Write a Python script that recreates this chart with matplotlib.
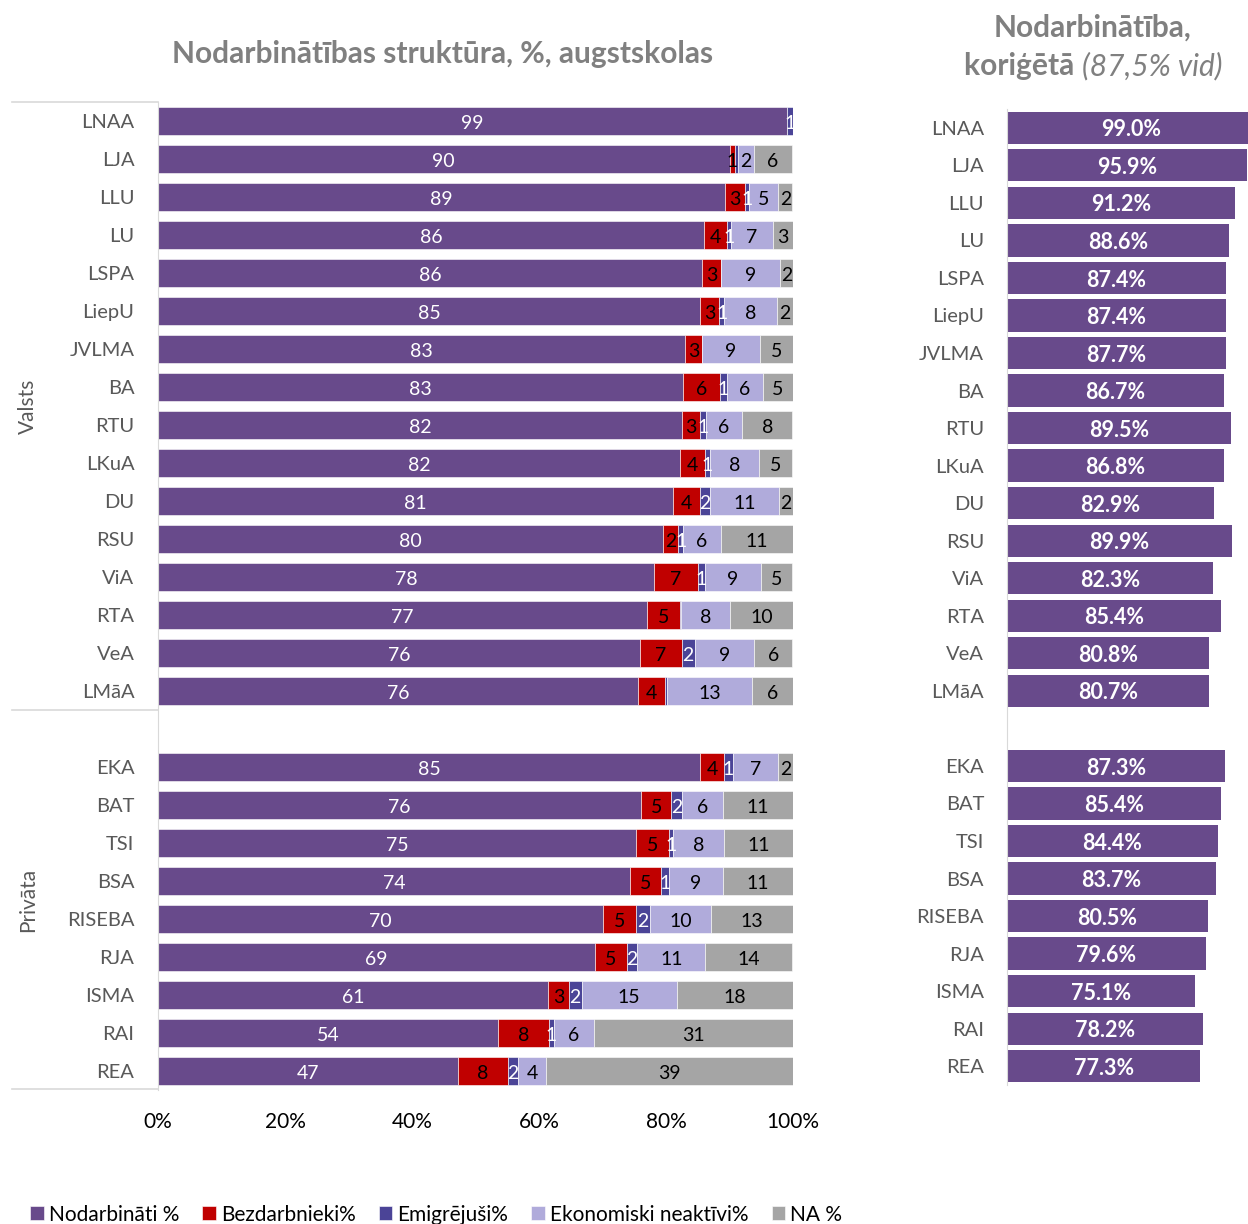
import matplotlib.pyplot as plt
from matplotlib.lines import Line2D

plt.rcParams['font.family'] = ['Lato', 'DejaVu Sans']

# ------------------------------------------------------------------ dati

valsts = ['LNAA', 'LJA', 'LLU', 'LU', 'LSPA', 'LiepU', 'JVLMA', 'BA', 'RTU',
          'LKuA', 'DU', 'RSU', 'ViA', 'RTA', 'VeA', 'LMāA']
privata = ['EKA', 'BAT', 'TSI', 'BSA', 'RISEBA', 'RJA', 'ISMA', 'RAI', 'REA']

nodarbinati = [99.0, 90.0, 89.3, 86.0, 85.7, 85.4, 83.0, 82.7, 82.5,
               82.2, 81.1, 79.6, 78.1, 77.0, 75.9, 75.6,
               85.4, 76.1, 75.3, 74.4, 70.1, 68.8, 61.4, 53.6, 47.2]
bezdarbnieki = [0.0, 0.9, 3.1, 3.6, 3.0, 3.0, 2.7, 5.8, 2.8,
                3.9, 4.2, 2.3, 6.9, 5.2, 6.6, 4.3,
                3.8, 4.7, 5.2, 4.8, 5.2, 5.0, 3.3, 7.9, 7.9]
emigrejusi = [1.0, 0.4, 0.6, 0.6, 0.0, 0.8, 0.0, 1.1, 1.0,
              0.9, 1.6, 0.8, 1.1, 0.2, 2.0, 0.3,
              1.3, 1.7, 0.6, 1.2, 2.2, 1.7, 2.0, 0.8, 1.6]
neaktivi = [0.0, 2.5, 4.7, 6.7, 9.3, 8.3, 9.1, 5.7, 5.7,
            7.7, 10.9, 5.9, 8.8, 7.7, 9.4, 13.4,
            7.2, 6.5, 8.0, 8.6, 9.6, 10.7, 15.0, 6.3, 4.4]
na = [0.0, 6.1, 2.2, 3.1, 2.0, 2.5, 5.2, 4.7, 7.9,
      5.2, 2.2, 11.4, 5.0, 9.9, 6.0, 6.4,
      2.4, 11.0, 11.0, 11.0, 12.9, 13.7, 18.3, 31.4, 38.9]

korigeta = [99.0, 95.9, 91.2, 88.6, 87.4, 87.4, 87.7, 86.7, 89.5,
            86.8, 82.9, 89.9, 82.3, 85.4, 80.8, 80.7,
            87.3, 85.4, 84.4, 83.7, 80.5, 79.6, 75.1, 78.2, 77.3]

series = [('Nodarbināti %', nodarbinati, '#684A8B', 'white'),
          ('Bezdarbnieki%', bezdarbnieki, '#C00000', 'black'),
          ('Emigrējuši%', emigrejusi, '#4B4497', 'white'),
          ('Ekonomiski neaktīvi%', neaktivi, '#B0ABDB', 'black'),
          ('NA %', na, '#A5A5A5', 'black')]

# pozīcijas: tukša rinda starp valsts un privātajām
names = valsts + privata
ypos = list(range(len(valsts))) + [len(valsts) + 1 + i for i in range(len(privata))]
nrows = len(valsts) + 1 + len(privata)

W, H = 1248, 1224
GRAY = '#595959'
TGRAY = '#808080'
LINE = '#D9D9D9'
fig = plt.figure(figsize=(W / 100, H / 100), dpi=100)

def fx(px):
    return px / W

def fy(py):
    return 1 - py / H

# ------------------------------------------------------------------ kreisais grafiks

ax = fig.add_axes([fx(158), fy(1090), fx(793 - 158), fy(102) - fy(1090)])
left = [0.0] * len(names)
handles = []
for label, vals, color, tcolor in series:
    bars = ax.barh(ypos, vals, left=left, height=0.74, color=color,
                   edgecolor='white', linewidth=0.4, label=label)
    handles.append(bars)
    labs = [str(round(v)) if round(v) > 0 else '' for v in vals]
    anns = ax.bar_label(bars, labels=labs, label_type='center', color=tcolor,
                        fontsize=14)
    for a in anns:
        a.xyann = (0, -1.5)
    left = [a + b for a, b in zip(left, vals)]

ax.set_xlim(0, 100)
ax.set_ylim(nrows - 0.5, -0.5)
ax.set_yticks(ypos)
ax.set_yticklabels(names, fontsize=14.5, color=GRAY)
ax.tick_params(axis='y', length=0, pad=17)
ax.set_xticks([0, 20, 40, 60, 80, 100])
ax.set_xticklabels([f'{t}%' for t in range(0, 101, 20)], fontsize=15, color='black')
ax.tick_params(axis='x', length=0, pad=16)
for s in ['top', 'right', 'bottom']:
    ax.spines[s].set_visible(False)
ax.spines['left'].set_color(LINE)

# grupu līnijas un nosaukumi
for py in [102, 710, 1089]:
    fig.add_artist(Line2D([fx(12), fx(158)], [fy(py), fy(py)], color=LINE, lw=1.2))
fig.text(fx(28), fy(406), 'Valsts', rotation=90, ha='center', va='center',
         fontsize=15, color=GRAY)
fig.text(fx(28), fy(900), 'Privāta', rotation=90, ha='center', va='center',
         fontsize=15, color=GRAY)

fig.text(fx(443), fy(54), 'Nodarbinātības struktūra, %, augstskolas',
         ha='center', va='center', fontsize=21.5, fontweight='bold', color=TGRAY)

# ------------------------------------------------------------------ labais grafiks

ax2 = fig.add_axes([fx(1007), fy(1085), fx(250), fy(109) - fy(1085)])
bars2 = ax2.barh(ypos, korigeta, height=0.86, color='#684A8B')
anns2 = ax2.bar_label(bars2, labels=[f'{v:.1f}%' for v in korigeta],
                      label_type='center', color='white', fontsize=15.5,
                      fontweight='bold')
for a in anns2:
    a.xyann = (0, -1.5)
ax2.set_xlim(0, 100)
ax2.set_ylim(nrows - 0.5, -0.5)
ax2.set_yticks(ypos)
ax2.set_yticklabels(names, fontsize=14.5, color=GRAY)
ax2.tick_params(axis='y', length=0, pad=16.5)
ax2.set_xticks([])
for s in ['top', 'right', 'bottom']:
    ax2.spines[s].set_visible(False)
ax2.spines['left'].set_color(LINE)

fig.text(fx(1093), fy(28), 'Nodarbinātība,', ha='center', va='center',
         fontsize=21.5, fontweight='bold', color=TGRAY)
t1 = fig.text(0, fy(66), 'koriģētā ', ha='left', va='center',
              fontsize=21.5, fontweight='bold', color=TGRAY)
t2 = fig.text(0, fy(66), '(87,5% vid)', ha='left', va='center',
              fontsize=21.5, style='italic', color=TGRAY)
fig.canvas.draw()
w1 = t1.get_window_extent().width
w2 = t2.get_window_extent().width
x0 = 1093 - (w1 + w2) / 2
t1.set_x(fx(x0))
t2.set_x(fx(x0 + w1))

# ------------------------------------------------------------------ leģenda

fig.legend(handles=handles, loc='lower left', bbox_to_anchor=(fx(22), fy(1233)),
           ncol=5, frameon=False, fontsize=15, handlelength=0.65, handleheight=0.65,
           handletextpad=0.25, columnspacing=1.1, borderaxespad=0)

plt.savefig('out.png', dpi=100)
